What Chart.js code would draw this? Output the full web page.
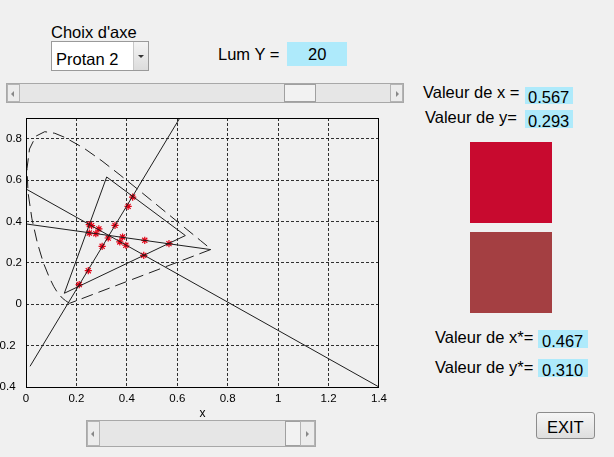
<!DOCTYPE html>
<html><head><meta charset="utf-8">
<script src="https://cdn.jsdelivr.net/npm/chart.js@4/dist/chart.umd.min.js"></script>
<style>
html,body{margin:0;padding:0;background:#f0f0f0;}
body{width:614px;height:457px;position:relative;overflow:hidden;font-family:"Liberation Sans",Arial,sans-serif;color:#000;}
.t{position:absolute;font-size:16.5px;line-height:1;white-space:nowrap;}
.box{position:absolute;background:#aeeafb;}
.popup{position:absolute;left:51px;top:41px;width:96px;height:28px;background:#fff;border:1px solid #9a9a9a;}
.popbtn{position:absolute;right:0;top:0;width:14px;height:28px;background:linear-gradient(#f4f4f4,#dcdcdc);border-left:1px solid #c8c8c8;}
.arr{position:absolute;width:0;height:0;}
.slider{position:absolute;background:#e6e6e6;border:1px solid #a8a8a8;box-sizing:border-box;}
.sbtn{position:absolute;top:0;bottom:0;width:13px;background:#ececec;border:1px solid #b4b4b4;box-sizing:border-box;}
.thumb{position:absolute;top:0;bottom:0;background:#f2f2f2;border:1px solid #a0a0a0;box-sizing:border-box;}
.exit{position:absolute;left:536px;top:412px;width:59px;height:27px;box-sizing:border-box;border:1px solid #8c8c8c;border-radius:3px;background:linear-gradient(#f6f6f6,#dedede);}
#wrap{position:absolute;left:0;top:100px;width:400px;height:330px;}
</style>
</head><body>
<div class="t" style="left:51px;top:24px;">Choix d'axe</div>
<div class="popup"><div class="t" style="left:4px;top:9px;">Protan 2</div>
<div class="popbtn"><div class="arr" style="left:4px;top:13px;border-left:3px solid transparent;border-right:3px solid transparent;border-top:3px solid #333;"></div></div></div>
<div class="t" style="left:218px;top:46px;">Lum Y =</div>
<div class="box" style="left:287px;top:42px;width:60px;height:24px;"></div>
<div class="t" style="left:308px;top:46px;">20</div>

<div class="slider" style="left:6px;top:83px;width:398px;height:20px;">
 <div class="sbtn" style="left:0;"><div class="arr" style="left:3px;top:6px;border-top:3px solid transparent;border-bottom:3px solid transparent;border-right:3px solid #888;"></div></div>
 <div class="thumb" style="left:277px;width:32px;"></div>
 <div class="sbtn" style="right:0;"><div class="arr" style="left:5px;top:6px;border-top:3px solid transparent;border-bottom:3px solid transparent;border-left:3px solid #888;"></div></div>
</div>

<div class="t" style="left:423px;top:84px;">Valeur de x =</div>
<div class="box" style="left:525px;top:87px;width:48px;height:17px;"></div>
<div class="t" style="left:528px;top:89px;">0.567</div>
<div class="t" style="left:425px;top:109px;">Valeur de y=</div>
<div class="box" style="left:525px;top:110px;width:48px;height:18px;"></div>
<div class="t" style="left:528px;top:113px;">0.293</div>

<div style="position:absolute;left:470px;top:142px;width:82px;height:81px;background:rgb(200,10,47);"></div>
<div style="position:absolute;left:470px;top:232px;width:82px;height:81px;background:rgb(164,63,66);"></div>

<div class="t" style="left:435px;top:329px;">Valeur de x*=</div>
<div class="box" style="left:538px;top:330px;width:50px;height:18px;"></div>
<div class="t" style="left:542px;top:333px;">0.467</div>
<div class="t" style="left:435px;top:359px;">Valeur de y*=</div>
<div class="box" style="left:538px;top:359px;width:50px;height:18px;"></div>
<div class="t" style="left:542px;top:362px;">0.310</div>

<div class="exit"></div>
<div class="t" style="left:547px;top:419px;">EXIT</div>

<div class="slider" style="left:86px;top:420px;width:230px;height:27px;">
 <div class="sbtn" style="left:0;"><div class="arr" style="left:3px;top:9px;border-top:3px solid transparent;border-bottom:3px solid transparent;border-right:3px solid #888;"></div></div>
 <div class="thumb" style="left:198px;width:17px;"></div>
 <div class="sbtn" style="right:0;width:15px;"><div class="arr" style="left:5px;top:9px;border-top:3px solid transparent;border-bottom:3px solid transparent;border-left:3px solid #888;"></div></div>
</div>

<div id="wrap"><canvas id="c" width="400" height="330"></canvas></div>

<script>
// ---- data ----
const xTicks = [0, 0.2, 0.4, 0.6, 0.8, 1, 1.2, 1.4];
const xTickLabels = ['0', '0.2', '0.4', '0.6', '0.8', '1', '1.2', '1.4'];
const yTicks = [-0.4, -0.2, 0, 0.2, 0.4, 0.6, 0.8];
const yTickLabels = ['0.4  ', '0.2  ', '0', '0.2', '0.4', '0.6', '0.8'];

// spectral locus (dashed) with closing purple line
const locusX = [0.1741, 0.1714, 0.1566, 0.1440, 0.1241, 0.1096, 0.0913, 0.0687, 0.0454, 0.0235, 0.0082, 0.0039, 0.0139, 0.0389, 0.0743, 0.1142, 0.1547, 0.2296, 0.3016, 0.3731, 0.4441, 0.5125, 0.5752, 0.6270, 0.6658, 0.6915, 0.7190, 0.7347, 0.1741];
const locusY = [0.0050, 0.0051, 0.0177, 0.0297, 0.0578, 0.0868, 0.1327, 0.2007, 0.2950, 0.4127, 0.5384, 0.6548, 0.7502, 0.8120, 0.8338, 0.8262, 0.8059, 0.7543, 0.6923, 0.6245, 0.5547, 0.4866, 0.4242, 0.3725, 0.3340, 0.3083, 0.2809, 0.2653, 0.0050];

// display gamut triangle
const gamutX = [0.320, 0.152, 0.632, 0.320];
const gamutY = [0.615, 0.053, 0.332, 0.615];

// straight lines
const axisAX = [0, 1.4];
const axisAY = [0.557, -0.4];
const axisBX = [0.016, 0.61];
const axisBY = [-0.30, 0.90];
const confX = [0, 0.733];
const confY = [0.388, 0.264];

// red star markers
const starsX = [0.211, 0.247, 0.302, 0.326, 0.353, 0.405, 0.423, 0.251, 0.260, 0.289, 0.372, 0.396, 0.467, 0.251, 0.277, 0.383, 0.471, 0.567];
const starsY = [0.095, 0.162, 0.280, 0.320, 0.381, 0.473, 0.518, 0.385, 0.380, 0.364, 0.301, 0.285, 0.236, 0.344, 0.341, 0.325, 0.309, 0.293];

const pts = (xs, ys) => xs.map((x, i) => ({x: x, y: ys[i]}));
const lineDs = (xs, ys, dash) => ({
  data: pts(xs, ys), showLine: true, pointRadius: 0, borderColor: '#1e1e1e',
  borderWidth: 1, borderDash: dash || [], fill: false, tension: 0
});

Chart.defaults.font.family = '"Liberation Sans", Arial, sans-serif';
Chart.defaults.color = '#000';

const boxPlugin = {
  id: 'box',
  afterDatasetsDraw(chart) {
    const a = chart.chartArea, ctx = chart.ctx;
    ctx.save();
    ctx.strokeStyle = '#000';
    ctx.lineWidth = 1;
    ctx.strokeRect(Math.round(a.left) + 0.5, Math.round(a.top) + 0.5, Math.round(a.right - a.left) - 1, Math.round(a.bottom - a.top));
    ctx.restore();
  }
};

const gridColor = (ctx) => {
  const n = ctx.scale.ticks.length;
  return (ctx.index === 0 || ctx.index === n - 1) ? 'rgba(0,0,0,0)' : 'rgba(0,0,0,0.8)';
};

new Chart(document.getElementById('c'), {
  type: 'scatter',
  data: {
    datasets: [
      lineDs(locusX, locusY, [12, 6]),
      lineDs(gamutX, gamutY),
      lineDs(axisAX, axisAY),
      lineDs(axisBX, axisBY),
      lineDs(confX, confY),
      {
        data: pts(starsX, starsY), showLine: false, pointStyle: 'star',
        pointRadius: 3.6, pointBorderColor: 'rgb(225,0,20)', pointBorderWidth: 1.2,
        pointBackgroundColor: 'rgba(0,0,0,0)'
      }
    ]
  },
  options: {
    responsive: false, animation: false, devicePixelRatio: 1,
    layout: {padding: {top: 18, right: 21, left: 0, bottom: 0}},
    plugins: {legend: {display: false}, tooltip: {enabled: false}},
    scales: {
      x: {
        type: 'linear', min: 0, max: 1.4,
        afterBuildTicks: (s) => { s.ticks = xTicks.map(v => ({value: v})); },
        afterFit: (s) => { s.height = 43; },
        ticks: {callback: (v, i) => xTickLabels[i], font: {size: 11.5}, padding: 5, maxRotation: 0, autoSkip: false},
        grid: {color: gridColor, drawTicks: false, lineWidth: 1},
        border: {display: false, dash: [3, 2]},
        title: {display: true, text: 'x', font: {size: 12}, padding: {top: 0, bottom: 9}}
      },
      y: {
        type: 'linear', min: -0.4, max: 0.9,
        afterBuildTicks: (s) => { s.ticks = yTicks.map(v => ({value: v})); },
        afterFit: (s) => { s.width = 26; },
        ticks: {callback: (v, i) => yTickLabels[i], font: {size: 11.5}, padding: 4, autoSkip: false},
        grid: {color: (ctx) => ctx.index === 0 ? 'rgba(0,0,0,0)' : 'rgba(0,0,0,0.8)', drawTicks: false, lineWidth: 1},
        border: {display: false, dash: [3, 2]}
      }
    }
  },
  plugins: [boxPlugin]
});
</script>
</body></html>
